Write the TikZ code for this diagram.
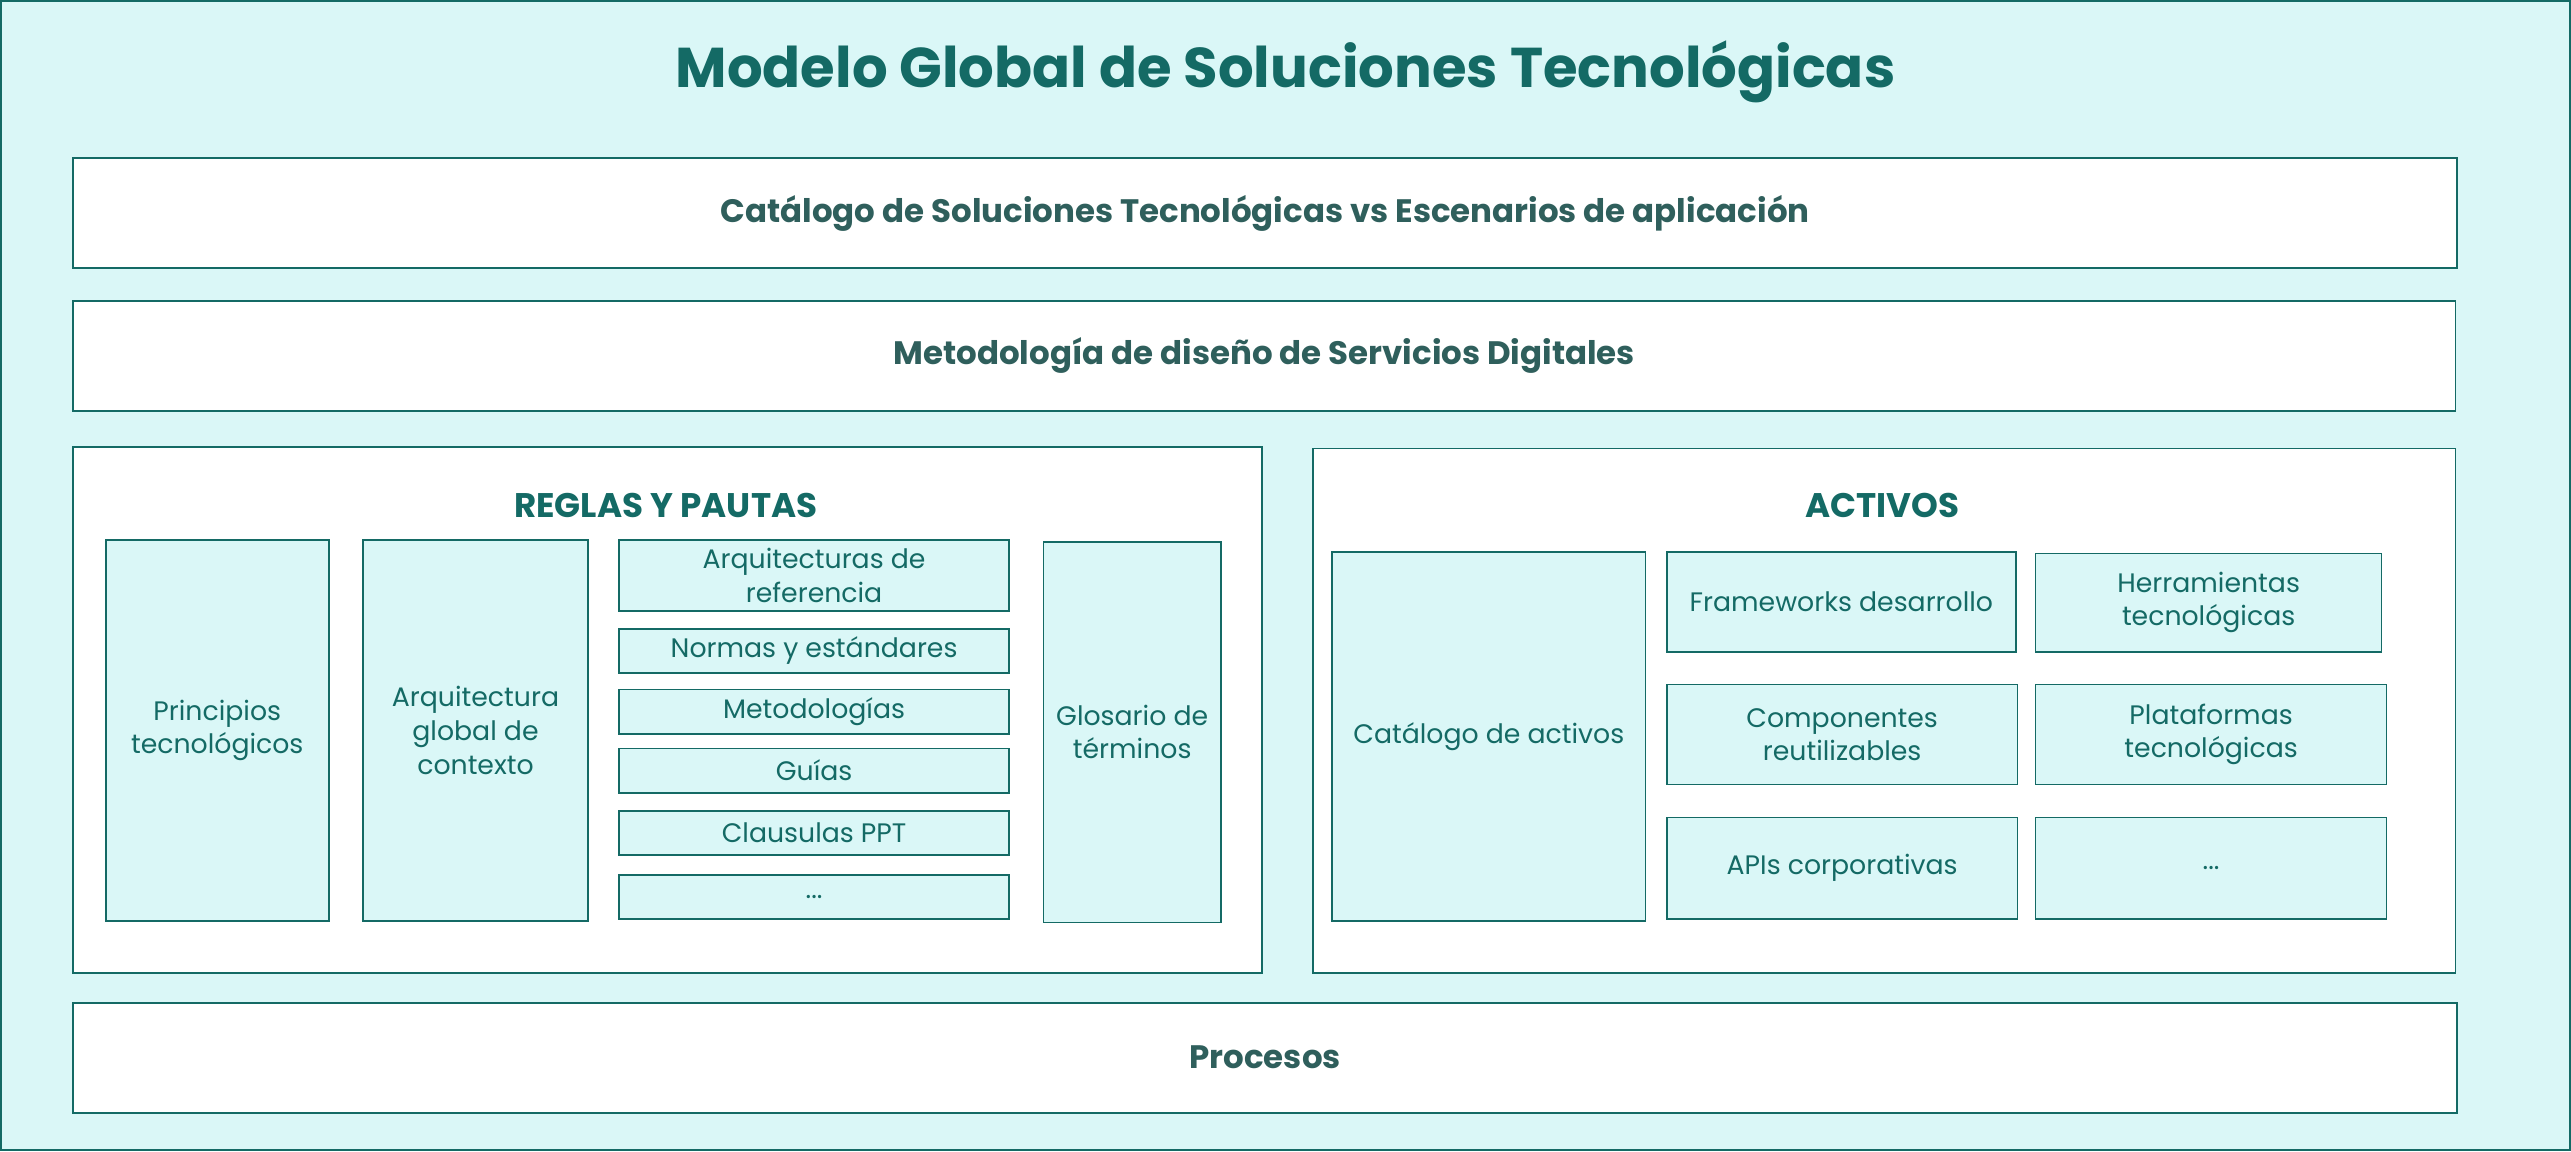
\documentclass[tikz,border=0pt]{standalone}
\usepackage{fontspec}
\setmainfont{Poppins}
\definecolor{teal}{HTML}{146A65}
\definecolor{pale}{HTML}{DAF7F7}
\definecolor{slate}{HTML}{2F5F5C}
\tikzset{
    bar/.style={draw=teal,line width=1.1pt,fill=white,text=slate,font=\fontsize{19.8}{22}\selectfont\bfseries},
    panel/.style={draw=teal,line width=1.1pt,fill=white},
    item/.style={draw=teal,line width=1pt,fill=pale,text=teal,align=center,inner sep=2pt,font=\fontsize{16.3}{20.5}\selectfont},
    heading/.style={text=teal,font=\fontsize{20.8}{22}\selectfont\bfseries},
}
\newcommand{\Item}[6]{% name,tlcx,tlcy,width,height,content (tlc=top left corner)
    \node[item,anchor=north west,minimum width=#4 pt,minimum height=#5 pt] (#1) at (#2,#3) {#6};
}
\newcommand{\Bar}[6]{% name,tlcx,tlcy,width,height,content
    \node[bar,anchor=north west,minimum width=#4 pt,minimum height=#5 pt] (#1) at (#2,#3) {#6};
}
\begin{document}
\begin{tikzpicture}[x=1pt,y=-1pt]
        \useasboundingbox (0,0) rectangle (1568,702);
        \draw[draw=teal,line width=1.4pt,fill=pale] (0.7,0.7) rectangle (1567.3,701.3);
        \node[text=teal,font=\fontsize{34.2}{38}\selectfont\bfseries] (title) at (784,44) {Modelo Global de Soluciones Tecnológicas};

        \Bar{catalogo}{44}{96}{1454}{67}{Catálogo de Soluciones Tecnológicas vs Escenarios de aplicación};
        \Bar{metodo}{44}{183}{1453}{67}{Metodología de diseño de Servicios Digitales};
        \Bar{procesos}{44}{611}{1454}{67}{Procesos};

        % reglas y pautas
        \node[panel,anchor=north west,minimum width=725pt,minimum height=321pt] (reglas) at (44,272) {};
        \node[heading] (reglastit) at (406,308) {REGLAS Y PAUTAS};
        \Item{principios}{64}{329}{136}{232}{Principios\\tecnológicos};
        \Item{arqglobal}{221}{329}{137}{232}{Arquitectura\\global de\\contexto};
        \Item{arqref}{377}{329}{238}{43}{Arquitecturas de\\referencia};
        \Item{normas}{377}{383}{238}{27}{Normas y estándares};
        \Item{metodologias}{377}{420}{238}{27}{Metodologías};
        \Item{guias}{377}{456}{238}{27}{Guías};
        \Item{clausulas}{377}{494}{238}{27}{Clausulas PPT};
        \Item{masreglas}{377}{533}{238}{27}{...};
        \Item{glosario}{636}{330}{108}{232}{Glosario de\\términos};

        % activos
        \node[panel,anchor=north west,minimum width=697pt,minimum height=320pt] (activos) at (800,273) {};
        \node[heading] (activostit) at (1148,308) {ACTIVOS};
        \Item{catactivos}{812}{336}{191}{225}{Catálogo de activos};
        \Item{frameworks}{1016}{336}{213}{61}{Frameworks desarrollo};
        \Item{herramientas}{1241}{337}{211}{60}{Herramientas\\tecnológicas};
        \Item{componentes}{1016}{417}{214}{61}{Componentes\\reutilizables};
        \Item{plataformas}{1241}{417}{214}{61}{Plataformas\\tecnológicas};
        \Item{apis}{1016}{498}{214}{62}{APIs corporativas};
        \Item{masactivos}{1241}{498}{214}{62}{...};
\end{tikzpicture}
\end{document}
